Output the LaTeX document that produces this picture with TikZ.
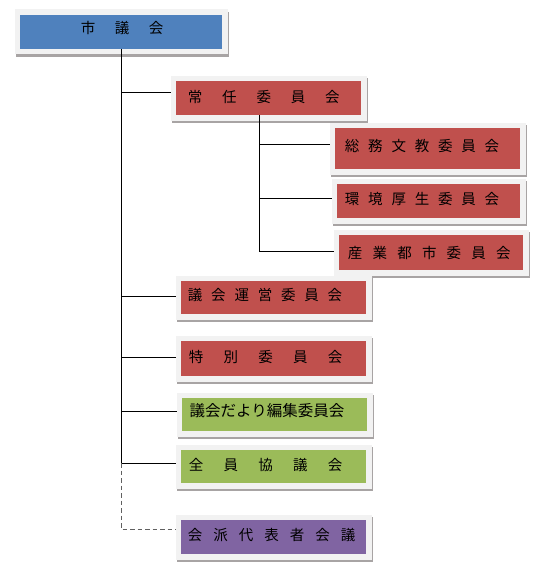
\documentclass[tikz,border=0pt]{standalone}
\usepackage{fontspec}
\setmainfont{Noto Sans CJK JP}
\usetikzlibrary{shadows,calc}
\definecolor{cblue}{HTML}{4F81BD}
\definecolor{cred}{HTML}{C0504D}
\definecolor{cgreen}{HTML}{9BBB59}
\definecolor{cpurple}{HTML}{8064A2}
\definecolor{framec}{HTML}{F2F2F2}
\definecolor{shadowc}{HTML}{A8A4A4}
\definecolor{dashc}{HTML}{606060}
\newcommand{\kk}[1]{\hspace{#1pt}}
\tikzset{
  box/.style={rectangle, draw=framec, line width=5.5pt, inner sep=0pt,
    drop shadow={shadow xshift=1.5pt, shadow yshift=-2.5pt, fill=shadowc, draw=shadowc, line width=5.5pt, opacity=1}},
  lbl/.style={anchor=west, inner sep=0pt, text=black, font=\fontsize{14.5}{14.5}\selectfont},
  conn/.style={line width=0.9pt, black},
  dconn/.style={line width=0.9pt, dashc, dash pattern=on 4.5pt off 3pt}
}
\begin{document}
\begin{tikzpicture}[x=1pt, y=-1pt]
\fill[white] (0,0) rectangle (550,586);
\useasboundingbox (0,0) rectangle (550,586);
% boxes (inner size + 5.5)
\node[box, fill=cblue,   minimum width=207.5pt, minimum height=39.5pt] (b1)  at (121,32) {};
\node[box, fill=cred,    minimum width=190.5pt, minimum height=39.5pt] (b2)  at (268.5,98) {};
\node[box, fill=cred,    minimum width=190.5pt, minimum height=46.5pt] (b3)  at (427.5,148.7) {};
\node[box, fill=cred,    minimum width=188.5pt, minimum height=39.5pt] (b4)  at (428.5,201) {};
\node[box, fill=cred,    minimum width=189.5pt, minimum height=40.5pt] (b5)  at (431,252.5) {};
\node[box, fill=cred,    minimum width=190.5pt, minimum height=38.5pt] (b6)  at (273.5,297.5) {};
\node[box, fill=cred,    minimum width=190.5pt, minimum height=40.5pt] (b7)  at (273.5,358.5) {};
\node[box, fill=cgreen,  minimum width=190.5pt, minimum height=38.5pt] (b8)  at (274.5,414.5) {};
\node[box, fill=cgreen,  minimum width=190.5pt, minimum height=38.5pt] (b9)  at (273.5,466.5) {};
\node[box, fill=cpurple, minimum width=190.5pt, minimum height=39.5pt] (b10) at (273.5,537) {};
% labels
\node[lbl] (t1)  at (80.75,28.5)   {市\kk{19.5}議\kk{19.5}会};
\node[lbl] (t2)  at (187.75,97)    {常\kk{19.8}任\kk{19.8}委\kk{19.8}員\kk{19.8}会};
\node[lbl] (t3)  at (344.75,146)   {総\kk{8.8}務\kk{8.8}文\kk{8.8}教\kk{8.8}委\kk{8.8}員\kk{8.8}会};
\node[lbl] (t4)  at (344.75,199)   {環\kk{8.8}境\kk{8.8}厚\kk{8.8}生\kk{8.8}委\kk{8.8}員\kk{8.8}会};
\node[lbl] (t5)  at (347.75,252.5) {産\kk{10.2}業\kk{10.2}都\kk{10.2}市\kk{10.2}委\kk{10.2}員\kk{10.2}会};
\node[lbl] (t6)  at (187.75,295.5) {議\kk{8.8}会\kk{8.8}運\kk{8.8}営\kk{8.8}委\kk{8.8}員\kk{8.8}会};
\node[lbl] (t7)  at (188.75,357.5) {特\kk{20.25}別\kk{20.25}委\kk{20.25}員\kk{20.25}会};
\node[lbl, font=\fontsize{15.5}{15.5}\selectfont] (t8) at (189.5,410.5) {議会だより編集委員会};
\node[lbl] (t9)  at (188.75,465.5) {全\kk{20.25}員\kk{20.25}協\kk{20.25}議\kk{20.25}会};
\node[lbl] (t10) at (187.75,535.5) {会\kk{11}派\kk{11}代\kk{11}表\kk{11}者\kk{11}会\kk{11}議};
% connector end points on the boxes
\path (b2.west)  ++(0,-6)   coordinate (e2);
\path (b3.west)  ++(0,-4.7) coordinate (e3);
\path (b4.west)  ++(0,-3)   coordinate (e4);
\path (b5.west)  ++(0,-1.5) coordinate (e5);
\path (b6.west)  ++(0,-1.5) coordinate (e6);
\path (b7.west)  ++(0,-1.5) coordinate (e7);
\path (b8.west)  ++(0,-3)   coordinate (e8);
\path (b9.west)  ++(0,-3.5) coordinate (e9);
\path (b10.west) ++(0,-8)   coordinate (e10);
\coordinate (s1) at ($(b1.south)+(0,-5.5)$);
\coordinate (s2) at ($(b2.south)+(-9.5,-5.5)$);
% main trunk
\draw[conn] (s1) -- (e9 -| s1);
\foreach \k in {2,6,7,8,9} { \draw[conn] (e\k -| s1) -- (e\k); }
\draw[dconn] (e9 -| s1) -- (e10 -| s1) -- (e10);
% sub trunk
\draw[conn] (s2) -- (e5 -| s2);
\foreach \k in {3,4,5} { \draw[conn] (e\k -| s2) -- (e\k); }
\end{tikzpicture}
\end{document}
